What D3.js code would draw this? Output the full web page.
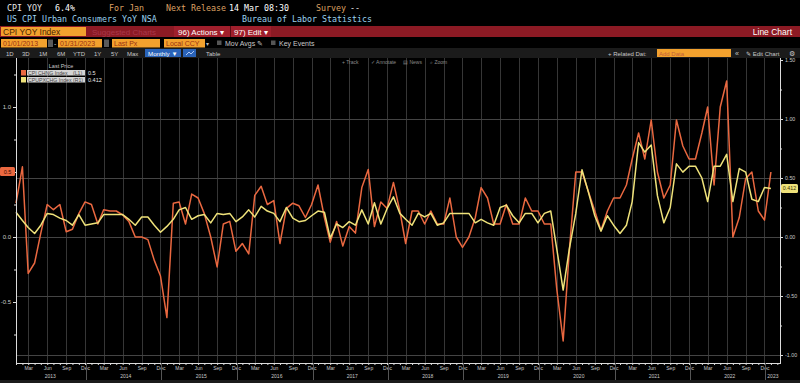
<!DOCTYPE html>
<html>
<head>
<meta charset="utf-8">
<script src="https://cdnjs.cloudflare.com/ajax/libs/d3/7.8.5/d3.min.js"></script>
<style>
  html, body { margin: 0; padding: 0; background: #000; }
  svg { display: block; }
  text { font-family: "Liberation Sans", Arial, sans-serif; }
</style>
</head>
<body>
<div id="chart"></div>
<script>
// monthly values, Jan 2013 .. Jan 2023
const startMonth = new Date(2013, 0, 1);

// CPI CHNG Index (L1), % MoM
const headline = [
  0.26, 0.54, -0.28, -0.2, 0.03, 0.25, 0.21, 0.25, 0.04, 0.06, 0.18, 0.27,
  0.25, 0.1, 0.21, 0.2, 0.2, 0.17, 0.12, 0.0, 0.0, -0.02, -0.18, -0.3,
  -0.62, 0.26, 0.27, 0.1, 0.33, 0.3, 0.18, 0.0, -0.23, 0.1, 0.12, -0.11,
  -0.05, -0.13, 0.32, 0.39, 0.25, 0.28, -0.05, 0.22, 0.26, 0.24, 0.15, 0.25,
  0.4, 0.15, -0.04, 0.12, -0.07, 0.08, 0.03, 0.38, 0.52, 0.08, 0.27, 0.22,
  0.42, 0.2, -0.05, 0.2, 0.2, 0.1, 0.2, 0.1, 0.1, 0.3, 0.0, -0.08,
  0.0, 0.15, 0.38, 0.3, 0.1, 0.1, 0.25, 0.1, 0.1, 0.3, 0.2, 0.2,
  0.1, 0.1, -0.4, -0.8, -0.1, 0.5, 0.5, 0.35, 0.2, 0.05, 0.2, 0.3,
  0.3, 0.4, 0.6, 0.8, 0.6, 0.9, 0.5, 0.3, 0.4, 0.9, 0.7, 0.6,
  0.6, 0.8, 1.0, 0.4, 1.0, 1.2, 0.0, 0.15, 0.45, 0.5, 0.2, 0.13,
  0.5
];

// CPUPXCHG Index (R1), % MoM
const core = [
  0.21, 0.14, 0.08, 0.03, 0.1, 0.2, 0.19, 0.16, 0.14, 0.1, 0.19, 0.1,
  0.11, 0.12, 0.19, 0.19, 0.19, 0.19, 0.15, 0.1, 0.17, 0.17, 0.1, 0.04,
  0.09, 0.15, 0.23, 0.25, 0.15, 0.18, 0.19, 0.12, 0.2, 0.19, 0.2, 0.13,
  0.17, 0.23, 0.17, 0.26, 0.22, 0.2, 0.13, 0.25, 0.16, 0.13, 0.14, 0.18,
  0.22, 0.21, -0.01, 0.11, 0.08, 0.13, 0.1, 0.23, 0.11, 0.29, 0.11, 0.24,
  0.34, 0.2, 0.15, 0.1, 0.2, 0.17, 0.2, 0.1, 0.12, 0.2, 0.2, 0.2,
  0.2, 0.12, 0.15, 0.12, 0.1, 0.25, 0.27, 0.18, 0.12, 0.2, 0.2, 0.12,
  0.2, 0.22, -0.1, -0.45, -0.1, 0.2, 0.57, 0.38, 0.18, 0.05, 0.18, 0.1,
  0.03, 0.1, 0.3, 0.8, 0.72, 0.78, 0.35, 0.12, 0.25, 0.62, 0.55, 0.6,
  0.6, 0.5, 0.3, 0.6, 0.6, 0.7, 0.3, 0.58, 0.55, 0.32, 0.3, 0.42,
  0.412
];

const seriesNames = ["CPI CHNG Index", "CPUPXCHG Index"];
const seriesAxes = ["(L1)", "(R1)"];
const lastValues = ["0.5", "0.412"];
const years = [2013, 2014, 2015, 2016, 2017, 2018, 2019, 2020, 2021, 2022, 2023];
const leftTicks = [1.0, 0.5, 0.0, -0.5];
const leftMinor = [1.25, 0.75, 0.25, -0.25, -0.75];
const rightTicks = [1.5, 1.0, 0.5, 0.0, -0.5, -1.0];
const rightMinor = [1.25, 0.75, 0.25, -0.25, -0.75];
const gridValues = [1.0, 0.5, 0.0, -0.5, -1.0];

const W = 800, H = 383;
const orange = "#ea6840", yellow = "#efe27a";
const tan = "#dca064", blue = "#9ad2ef";

const svg = d3.select("#chart").append("svg")
    .attr("width", W)
    .attr("height", H);

svg.append("rect").attr("width", W).attr("height", H).attr("fill", "#000");

// ---------- header ----------
function mono(x, y, str, color) {
    svg.append("text")
        .attr("x", x).attr("y", y)
        .style("font-family", "'DejaVu Sans Mono', monospace")
        .style("font-size", "8.3px")
        .style("fill", color)
        .text(str);
}
mono(7, 11, "CPI YOY", "#e6e6e6");
mono(55, 11, "6.4%", "#ffffff");
mono(109, 11, "For Jan", tan);
mono(166, 11, "Next Release", tan);
mono(229, 11, "14 Mar 08:30", "#ffffff");
mono(316, 11, "Survey", tan);
mono(350, 11, "--", "#e6e6e6");
mono(7, 21.5, "US CPI Urban Consumers YoY NSA", blue);
mono(242, 21.5, "Bureau of Labor Statistics", blue);

// red bar
svg.append("rect").attr("x", 0).attr("y", 26).attr("width", W).attr("height", 11).attr("fill", "#8c1a24");
svg.append("rect").attr("x", 174).attr("y", 26).attr("width", 97).attr("height", 11).attr("fill", "#a01f2c");
svg.append("line").attr("x1", 230.5).attr("x2", 230.5).attr("y1", 26).attr("y2", 37).attr("stroke", "#5a0c14");
svg.append("rect").attr("x", 1).attr("y", 27).attr("width", 85).attr("height", 9).attr("fill", "#f2a12e");
svg.append("text").attr("x", 3).attr("y", 34.5).style("font-size", "8.5px").style("fill", "#4a2300").text("CPI YOY Index");
svg.append("text").attr("x", 92).attr("y", 34.5).style("font-size", "8px").style("fill", "#a8384a").text("Suggested Charts");
svg.append("text").attr("x", 178).attr("y", 34.5).style("font-size", "8px").style("fill", "#fff").text("96) Actions \u25BE");
svg.append("text").attr("x", 234).attr("y", 34.5).style("font-size", "8px").style("fill", "#fff").text("97) Edit \u25BE");
svg.append("text").attr("x", 792).attr("y", 34.5).attr("text-anchor", "end").style("font-size", "8.5px").style("fill", "#fff").text("Line Chart");

// controls row
const boxes = [
    {x: 1, w: 46, t: "01/01/2013"},
    {x: 58, w: 44, t: "01/31/2023"},
    {x: 112, w: 48, t: "Last Px"},
    {x: 164, w: 41, t: "Local CCY"}
];
boxes.forEach(b => {
    svg.append("rect").attr("x", b.x).attr("y", 39).attr("width", b.w).attr("height", 8.5).attr("fill", "#f2a12e");
    svg.append("text").attr("x", b.x + 2).attr("y", 45.8).style("font-size", "7px").style("fill", "#9a3212").text(b.t);
});
[48, 104].forEach(bx => {
    svg.append("rect").attr("x", bx).attr("y", 39.5).attr("width", 5).attr("height", 7.5).attr("fill", "#5a5a5a");
});
svg.append("text").attr("x", 54).attr("y", 45.8).style("font-size", "7px").style("fill", "#ccc").text("-");
svg.append("text").attr("x", 206).attr("y", 45.8).style("font-size", "6px").style("fill", "#bbb").text("\u25BE");
[217, 271].forEach(bx => {
    svg.append("rect").attr("x", bx).attr("y", 40.5).attr("width", 4.5).attr("height", 4.5).attr("fill", "#555");
});
svg.append("text").attr("x", 225).attr("y", 45.8).style("font-size", "7px").style("fill", "#c8c8c8").text("Mov Avgs \u270E");
svg.append("text").attr("x", 279).attr("y", 45.8).style("font-size", "7px").style("fill", "#c8c8c8").text("Key Events");

// range row
svg.append("rect").attr("x", 0).attr("y", 48).attr("width", W).attr("height", 10).attr("fill", "#1b1b1b");
const ranges = [[6, "1D"], [22, "3D"], [39, "1M"], [57, "6M"], [73, "YTD"], [94, "1Y"], [111, "5Y"], [127, "Max"]];
ranges.forEach(r => {
    svg.append("text").attr("x", r[0]).attr("y", 55.5).style("font-size", "6px").style("fill", "#c8c8c8").text(r[1]);
});
svg.append("rect").attr("x", 145).attr("y", 49).attr("width", 36).attr("height", 8).attr("fill", "#2a63b8");
svg.append("text").attr("x", 148).attr("y", 55.5).style("font-size", "6.2px").style("fill", "#fff").text("Monthly \u25BC");
svg.append("rect").attr("x", 183).attr("y", 49).attr("width", 13).attr("height", 8).attr("fill", "#2a63b8");
svg.append("path").attr("d", "M186,55 L189,52 L191,54 L194,51").attr("fill", "none").attr("stroke", "#cfe0ff").attr("stroke-width", 0.8);
svg.append("text").attr("x", 206).attr("y", 55.5).style("font-size", "6px").style("fill", "#c8c8c8").text("Table");

svg.append("text").attr("x", 608).attr("y", 55.5).style("font-size", "6px").style("fill", "#c8c8c8").text("+ Related Dat:");
svg.append("rect").attr("x", 657).attr("y", 49).attr("width", 74).attr("height", 8).attr("fill", "#f2a12e");
svg.append("text").attr("x", 659).attr("y", 55.5).style("font-size", "6px").style("fill", "#c0603a").text("Add Data");
svg.append("text").attr("x", 735).attr("y", 55.5).style("font-size", "7px").style("fill", "#c8c8c8").text("\u00AB");
svg.append("text").attr("x", 746).attr("y", 55.5).style("font-size", "6px").style("fill", "#c8c8c8").text("\u270E Edit Chart");
svg.append("text").attr("x", 789).attr("y", 56).style("font-size", "7px").style("fill", "#c8c8c8").text("\u2699");

// ---------- chart ----------
const plot = {left: 16, right: 780, top: 58, bottom: 363};
const dates = headline.map((v, i) => d3.timeMonth.offset(startMonth, i));

const x = d3.scaleTime()
    .domain([startMonth, new Date(2023, 1, 14)])
    .range([plot.left, plot.right]);
const yL = d3.scaleLinear().domain([-1, 1]).range([367, 107]);
const yR = d3.scaleLinear().domain([-1, 1.5]).range([355, 60]);

const quarterDates = d3.timeMonth.range(new Date(2013, 2, 1), new Date(2023, 0, 1), 3);
const crisp = v => Math.round(v) + 0.5;

// vertical grid
svg.append("g").selectAll("line").data(quarterDates).join("line")
    .attr("x1", d => crisp(x(d))).attr("x2", d => crisp(x(d)))
    .attr("y1", plot.top).attr("y2", plot.bottom)
    .attr("stroke", "#363636").attr("stroke-width", 1);

// horizontal grid (right axis)
svg.append("g").selectAll("line").data(gridValues).join("line")
    .attr("x1", plot.left).attr("x2", plot.right)
    .attr("y1", d => crisp(yR(d))).attr("y2", d => crisp(yR(d)))
    .attr("stroke", "#444").attr("stroke-width", 1);

// toolbar
const tools = [[342, "+ Track"], [371, "\u2713 Annotate"], [403, "\u25A4 News"], [430, "\u2315 Zoom"]];
tools.forEach(t => {
    svg.append("text").attr("x", t[0]).attr("y", 63.5).style("font-size", "5px").style("fill", "#8a8a8a").text(t[1]);
});

// legend
svg.append("text").attr("x", 61).attr("y", 67.5).attr("text-anchor", "middle")
    .style("font-size", "5.5px").style("fill", "#c8c8c8").text("Last Price");
const legendColors = [orange, yellow];
seriesNames.forEach((name, i) => {
    const ly = 70 + i * 7;
    svg.append("rect").attr("x", 21).attr("y", ly).attr("width", 5).attr("height", 5.5).attr("fill", legendColors[i]);
    svg.append("rect").attr("x", 27).attr("y", ly).attr("width", 58).attr("height", 5.5).attr("fill", "#d4d4d4");
    svg.append("text").attr("x", 28).attr("y", ly + 4.6).style("font-size", "5.2px").style("fill", "#444").text(name);
    svg.append("text").attr("x", 73).attr("y", ly + 4.6).style("font-size", "5.2px").style("fill", "#444").text(seriesAxes[i]);
    svg.append("text").attr("x", 88).attr("y", ly + 4.6).style("font-size", "5.5px").style("fill", "#e8e8e8").text(lastValues[i]);
});

// lines
const lineL = d3.line().x((d, i) => x(dates[i])).y(d => yL(d));
const lineR = d3.line().x((d, i) => x(dates[i])).y(d => yR(d));
svg.append("path").datum(headline).attr("d", lineL)
    .attr("fill", "none").attr("stroke", orange).attr("stroke-width", 1.5).attr("stroke-linejoin", "round");
svg.append("path").datum(core).attr("d", lineR)
    .attr("fill", "none").attr("stroke", yellow).attr("stroke-width", 1.5).attr("stroke-linejoin", "round");

// left axis
const leftAxis = svg.append("g").attr("transform", `translate(${plot.left},0)`)
    .call(d3.axisLeft(yL).tickValues(leftTicks).tickSize(3).tickPadding(2).tickFormat(d => d.toFixed(1)));
leftAxis.append("g").call(d3.axisLeft(yL).tickValues(leftMinor).tickSize(2).tickFormat(""));
// right axis
const rightAxis = svg.append("g").attr("transform", `translate(${plot.right},0)`)
    .call(d3.axisRight(yR).tickValues(rightTicks).tickSize(3).tickPadding(2).tickFormat(d => d.toFixed(2)));
rightAxis.append("g").call(d3.axisRight(yR).tickValues(rightMinor).tickSize(2).tickFormat(""));
// bottom axis
const bottomAxis = svg.append("g").attr("transform", `translate(0,${plot.bottom})`)
    .call(d3.axisBottom(x).ticks(d3.timeMonth.every(1)).tickSize(2).tickFormat(""));
const qAxis = svg.append("g").attr("transform", `translate(0,${plot.bottom})`)
    .call(d3.axisBottom(x).tickValues(quarterDates).tickSize(0).tickPadding(3).tickFormat(d3.timeFormat("%b")));

[leftAxis, rightAxis, bottomAxis, qAxis].forEach(a => {
    a.selectAll(".domain").remove();
    a.selectAll("line").attr("stroke", "#dcdcdc");
    a.selectAll("text").style("fill", "#c8c8c8").style("font-family", "'Liberation Sans', Arial, sans-serif");
});
leftAxis.selectAll("text").style("font-size", "6px");
rightAxis.selectAll("text").style("font-size", "5.3px");
qAxis.selectAll("text").style("font-size", "5px");

// axis lines
svg.append("line").attr("x1", crisp(plot.left)).attr("x2", crisp(plot.left)).attr("y1", plot.top).attr("y2", plot.bottom + 0.5).attr("stroke", "#dcdcdc");
svg.append("line").attr("x1", crisp(plot.right)).attr("x2", crisp(plot.right)).attr("y1", plot.top).attr("y2", plot.bottom + 0.5).attr("stroke", "#dcdcdc");
svg.append("line").attr("x1", plot.left).attr("x2", plot.right + 1).attr("y1", crisp(plot.bottom)).attr("y2", crisp(plot.bottom)).attr("stroke", "#dcdcdc");

// year separators and labels
const decDates = quarterDates.filter(d => d.getMonth() === 11);
svg.append("g").selectAll("line").data(decDates).join("line")
    .attr("x1", d => crisp(x(d)) + 1).attr("x2", d => crisp(x(d)) + 1)
    .attr("y1", plot.bottom).attr("y2", 380)
    .attr("stroke", "#555");
svg.append("g").selectAll("text").data(years).join("text")
    .attr("x", d => d === 2023 ? x(new Date(2023, 0, 1)) + 2 : x(new Date(d, 5, 16)))
    .attr("y", 377.5)
    .attr("text-anchor", "middle")
    .style("font-size", "5px").style("fill", "#c8c8c8")
    .text(d => d);

// last value tags
const tagL = yL(+lastValues[0]);
svg.append("rect").attr("x", 0).attr("y", tagL - 5).attr("width", 15).attr("height", 9).attr("rx", 1.5).attr("fill", orange);
svg.append("text").attr("x", 7.5).attr("y", tagL + 1.8).attr("text-anchor", "middle").style("font-size", "5.5px").style("fill", "#3a0d00").text(lastValues[0]);
const tagR = yR(+lastValues[1]);
svg.append("rect").attr("x", 781).attr("y", tagR - 4.5).attr("width", 17).attr("height", 9).attr("rx", 1.5).attr("fill", yellow);
svg.append("text").attr("x", 789.5).attr("y", tagR + 1.8).attr("text-anchor", "middle").style("font-size", "5.3px").style("fill", "#3a3000").text(lastValues[1]);

svg.append("rect").attr("x", 0).attr("y", 380).attr("width", W).attr("height", 3).attr("fill", "#1b1b1b");
</script>
</body>
</html>
